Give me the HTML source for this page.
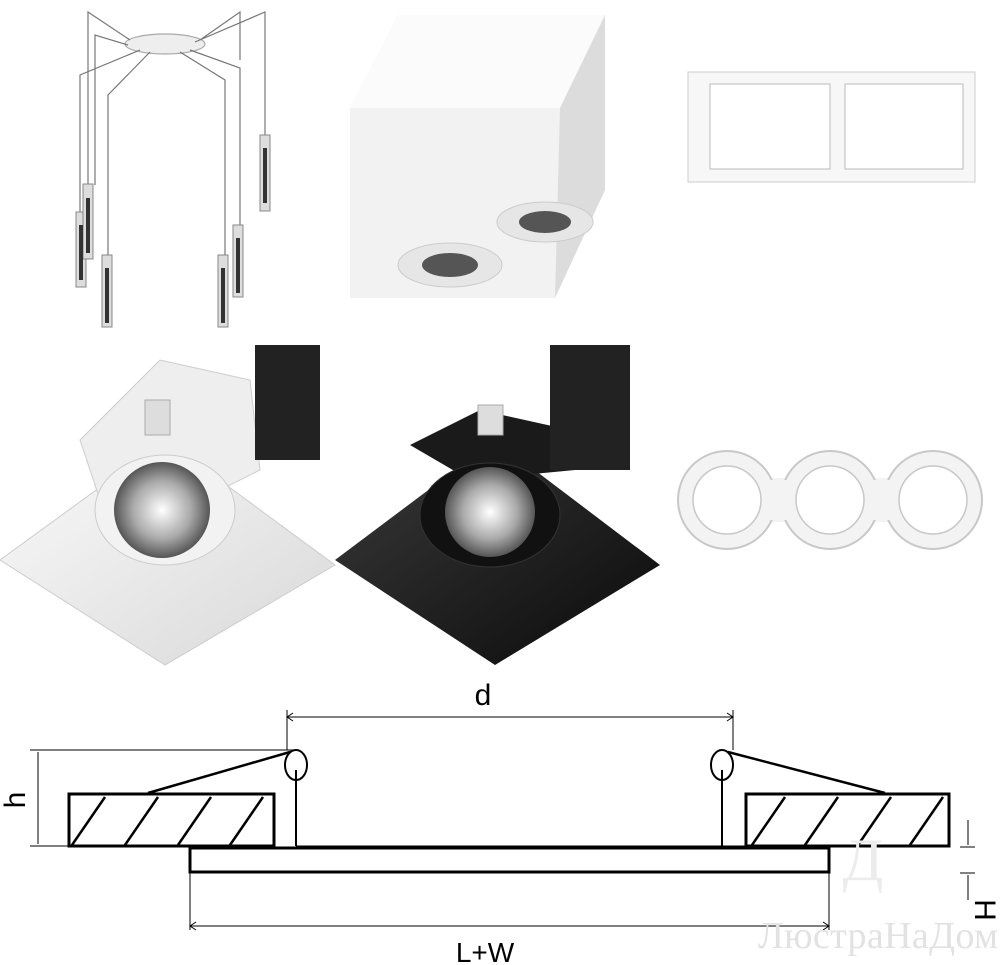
<!DOCTYPE html>
<html><head><meta charset="utf-8"><style>
html,body{margin:0;padding:0;background:#fff;width:1000px;height:965px;overflow:hidden}
svg{display:block}
</style></head><body>
<svg width="1000" height="965" viewBox="0 0 1000 965" xmlns="http://www.w3.org/2000/svg" font-family="Liberation Sans, sans-serif">
<defs>
<linearGradient id="gw" x1="0" y1="0" x2="1" y2="1"><stop offset="0" stop-color="#fafafa"/><stop offset="1" stop-color="#d8d8d8"/></linearGradient>
<linearGradient id="gb" x1="0" y1="0" x2="1" y2="1"><stop offset="0" stop-color="#3a3a3a"/><stop offset="1" stop-color="#0a0a0a"/></linearGradient>
<radialGradient id="gl"><stop offset="0" stop-color="#fff"/><stop offset="0.6" stop-color="#aaa"/><stop offset="1" stop-color="#555"/></radialGradient>
</defs>
<!-- pendant -->
<g stroke="#777" stroke-width="1.2" fill="none">
<ellipse cx="165" cy="44" rx="40" ry="10" fill="#eee" stroke="#aaa"/>
<path d="M130 40 L88 12 L88 190 M200 40 L240 12 L240 60 M140 50 L80 75 L80 250 M150 52 L108 95 L108 260 M180 52 L225 80 L225 260 M190 50 L240 68 L240 230 M195 42 L265 12 L265 140 M128 45 L95 35 L95 185"/>
</g>
<g fill="#ddd" stroke="#888">
<rect x="76" y="212" width="10" height="75"/><rect x="83" y="184" width="10" height="75"/>
<rect x="102" y="255" width="10" height="72"/><rect x="218" y="255" width="10" height="72"/>
<rect x="233" y="225" width="10" height="72"/><rect x="260" y="135" width="10" height="76"/>
</g>
<g fill="#333"><rect x="79" y="225" width="4" height="55"/><rect x="105" y="268" width="4" height="55"/><rect x="221" y="268" width="4" height="55"/><rect x="236" y="238" width="4" height="55"/><rect x="263" y="148" width="4" height="55"/><rect x="86" y="198" width="4" height="55"/></g>
<!-- box -->
<polygon points="350,108 398,15 605,15 605,190 555,298 350,298" fill="#f2f2f2"/>
<polygon points="350,108 398,15 605,15 560,108" fill="#fbfbfb"/>
<polygon points="560,108 605,15 605,190 555,298" fill="#dcdcdc"/>
<ellipse cx="450" cy="265" rx="52" ry="22" fill="#e6e6e6" stroke="#ccc"/>
<ellipse cx="450" cy="265" rx="28" ry="12" fill="#555"/>
<ellipse cx="545" cy="222" rx="48" ry="20" fill="#e6e6e6" stroke="#ccc"/>
<ellipse cx="545" cy="222" rx="26" ry="11" fill="#555"/>
<!-- double frame -->
<rect x="688" y="72" width="287" height="110" fill="#f7f7f7" stroke="#ccc"/>
<rect x="710" y="84" width="120" height="85" fill="#fff" stroke="#bbb"/>
<rect x="845" y="84" width="118" height="85" fill="#fff" stroke="#bbb"/>
<!-- white downlight -->
<polygon points="0,560 165,440 335,565 165,665" fill="url(#gw)" stroke="#ccc"/>
<polygon points="80,440 160,360 250,380 260,470 200,500 100,500" fill="#eee" stroke="#ccc"/>
<rect x="255" y="345" width="65" height="115" fill="#222"/>
<ellipse cx="165" cy="510" rx="70" ry="55" fill="#f2f2f2" stroke="#ccc"/>
<circle cx="162" cy="510" r="48" fill="url(#gl)"/>
<rect x="145" y="400" width="25" height="35" fill="#ddd" stroke="#aaa"/>
<!-- black downlight -->
<polygon points="335,560 495,440 660,565 495,665" fill="url(#gb)"/>
<polygon points="410,445 480,410 570,430 575,470 470,480" fill="#1a1a1a"/>
<rect x="550" y="345" width="80" height="125" fill="#222"/>
<ellipse cx="490" cy="515" rx="70" ry="52" fill="#111" stroke="#333"/>
<circle cx="490" cy="512" r="45" fill="url(#gl)"/>
<rect x="478" y="405" width="25" height="30" fill="#ddd" stroke="#aaa"/>
<!-- triple ring -->
<g fill="#f3f3f3" stroke="#c8c8c8" stroke-width="2">
<rect x="720" y="478" width="220" height="44" stroke="none"/>
<circle cx="727" cy="500" r="49"/><circle cx="830" cy="500" r="49"/><circle cx="933" cy="500" r="49"/>
<rect x="760" y="480" width="30" height="40" stroke="none"/><rect x="870" y="480" width="30" height="40" stroke="none"/>
</g>
<g fill="#fff" stroke="#c8c8c8" stroke-width="1.5">
<circle cx="727" cy="500" r="34"/><circle cx="830" cy="500" r="34"/><circle cx="933" cy="500" r="34"/>
</g>
<!-- drawing -->
<g stroke="#000" fill="none">
<line x1="287" y1="717" x2="733" y2="717" stroke-width="1"/>
<polyline points="293,713 287,717 293,721"/><polyline points="727,713 733,717 727,721"/>
<line x1="287" y1="710" x2="287" y2="750" stroke-width="1"/>
<line x1="733" y1="710" x2="733" y2="750" stroke-width="1"/>
<line x1="30" y1="750" x2="295" y2="750" stroke-width="1"/>
<line x1="30" y1="846" x2="90" y2="846" stroke-width="1"/>
<line x1="38" y1="752" x2="38" y2="844" stroke-width="1"/>
<rect x="69" y="794" width="205" height="52" stroke-width="3"/>
<rect x="746" y="794" width="203" height="52" stroke-width="3"/>
<g stroke-width="2.5">
<path d="M72,845 L105,797 M125,845 L158,797 M178,845 L211,797 M230,845 L263,797"/>
<path d="M752,845 L785,797 M805,845 L838,797 M858,845 L891,797 M910,845 L943,797"/>
</g>
<line x1="296" y1="847" x2="746" y2="847" stroke-width="3"/>
<rect x="190" y="848" width="639" height="24" stroke-width="3"/>
<ellipse cx="296" cy="765" rx="11" ry="15" stroke-width="2"/>
<ellipse cx="722" cy="765" rx="11" ry="15" stroke-width="2"/>
<line x1="296" y1="770" x2="296" y2="846" stroke-width="2"/>
<line x1="722" y1="770" x2="722" y2="846" stroke-width="2"/>
<line x1="290" y1="752" x2="148" y2="793" stroke-width="2.5"/>
<line x1="728" y1="752" x2="885" y2="793" stroke-width="2.5"/>
<line x1="190" y1="873" x2="190" y2="930" stroke-width="1"/>
<line x1="829" y1="873" x2="829" y2="930" stroke-width="1"/>
<line x1="190" y1="926" x2="829" y2="926" stroke-width="1"/>
<polyline points="196,922 190,926 196,930"/><polyline points="823,922 829,926 823,930"/>
<line x1="960" y1="847" x2="975" y2="847" stroke-width="1"/>
<line x1="960" y1="873" x2="975" y2="873" stroke-width="1"/>
<line x1="968" y1="820" x2="968" y2="845" stroke-width="1"/>
<line x1="968" y1="875" x2="968" y2="900" stroke-width="1"/>
</g>
<text x="483" y="705" font-size="30" text-anchor="middle">d</text>
<text x="485" y="962" font-size="28" text-anchor="middle">L+W</text>
<text transform="translate(25,800) rotate(-90)" font-size="30" text-anchor="middle">h</text>
<text transform="translate(975,910) rotate(90)" font-size="30" text-anchor="middle">H</text>
<text x="878" y="948" font-size="38" fill="#e2e2e2" text-anchor="middle" font-family="Liberation Serif, serif" textLength="240">ЛюстраНаДом</text>
<text x="863" y="880" font-size="60" fill="#ececec" text-anchor="middle" font-family="Liberation Serif, serif">Д</text>
</svg>
</body></html>
